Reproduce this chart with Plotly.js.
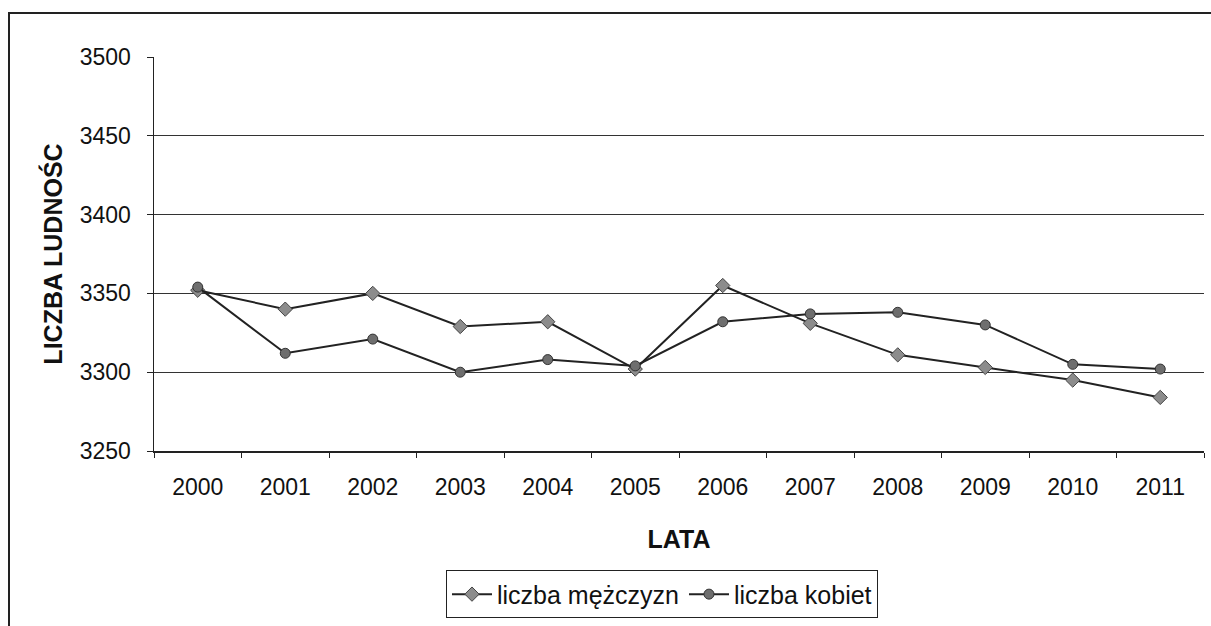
<!DOCTYPE html>
<html>
<head>
<meta charset="utf-8">
<script src="https://cdn.plot.ly/plotly-3.0.1.min.js"></script>
<style>
  html, body { margin: 0; padding: 0; background: #fff; }
  #wrap { position: relative; width: 1211px; height: 626px; }
  #chart { position: absolute; left: 0; top: 0; width: 1211px; height: 626px; }
  #frame { position: absolute; left: 8px; top: 12px; width: 1210px; height: 700px;
           border-top: 2px solid #222; border-left: 2px solid #222; pointer-events: none; }
</style>
</head>
<body>
<div id="wrap">
  <div id="chart"></div>
  <div id="frame"></div>
</div>
<script>
const years = ['2000','2001','2002','2003','2004','2005','2006','2007','2008','2009','2010','2011'];
const men   = [3352, 3340, 3350, 3329, 3332, 3302, 3355, 3331, 3311, 3303, 3295, 3284];
const women = [3354, 3312, 3321, 3300, 3308, 3304, 3332, 3337, 3338, 3330, 3305, 3302];
const menName = 'liczba mężczyzn';
const womenName = 'liczba kobiet';
const yTicks = [3250, 3300, 3350, 3400, 3450, 3500];

const font = 'Liberation Sans, Arial, sans-serif';

const traces = [
  {
    x: years, y: men, name: menName, type: 'scatter', mode: 'lines+markers',
    line: { color: '#222', width: 2 },
    marker: { symbol: 'diamond', size: 11, color: '#8c8c8c', line: { color: '#444', width: 1 } }
  },
  {
    x: years, y: women, name: womenName, type: 'scatter', mode: 'lines+markers',
    line: { color: '#222', width: 2 },
    marker: { symbol: 'circle', size: 10, color: '#6e6e6e', line: { color: '#333', width: 1 } }
  }
];

const layout = {
  width: 1211, height: 626,
  margin: { l: 154, r: 7, t: 57, b: 173 },
  paper_bgcolor: '#fff', plot_bgcolor: '#fff',
  font: { family: font, color: '#111', size: 23 },
  showlegend: true,
  xaxis: {
    type: 'category', range: [-0.5, 11.5],
    showline: true, linecolor: '#222', linewidth: 1.5,
    ticks: 'outside', tickson: 'boundaries', ticklen: 5, tickcolor: '#222',
    showgrid: false, zeroline: false,
    tickfont: { family: font, size: 23, color: '#111' },
    ticklabelstandoff: 15,
    title: { text: '<b>LATA</b>', font: { family: font, size: 25, color: '#111' }, standoff: 31 }
  },
  yaxis: {
    range: [3250, 3500], tickvals: yTicks, ticktext: yTicks.map(String),
    showline: true, linecolor: '#222', linewidth: 1.5,
    ticks: 'outside', ticklen: 6, tickcolor: '#222',
    showgrid: true, gridcolor: '#333', gridwidth: 1,
    zeroline: false,
    tickfont: { family: font, size: 23, color: '#111' },
    ticklabelstandoff: 11,
    title: { text: '<b>LICZBA LUDNOŚC</b>', font: { family: font, size: 25, color: '#111' }, standoff: 10 }
  },
  legend: {
    orientation: 'h', x: 0.4838, xanchor: 'center', y: -0.303, yanchor: 'top',
    bordercolor: '#222', borderwidth: 1, bgcolor: '#fff',
    font: { family: font, size: 25, color: '#111' },
    itemwidth: 40, tracegroupgap: 0
  }
};

Plotly.newPlot('chart', traces, layout, { displayModeBar: false, staticPlot: true });
</script>
</body>
</html>
